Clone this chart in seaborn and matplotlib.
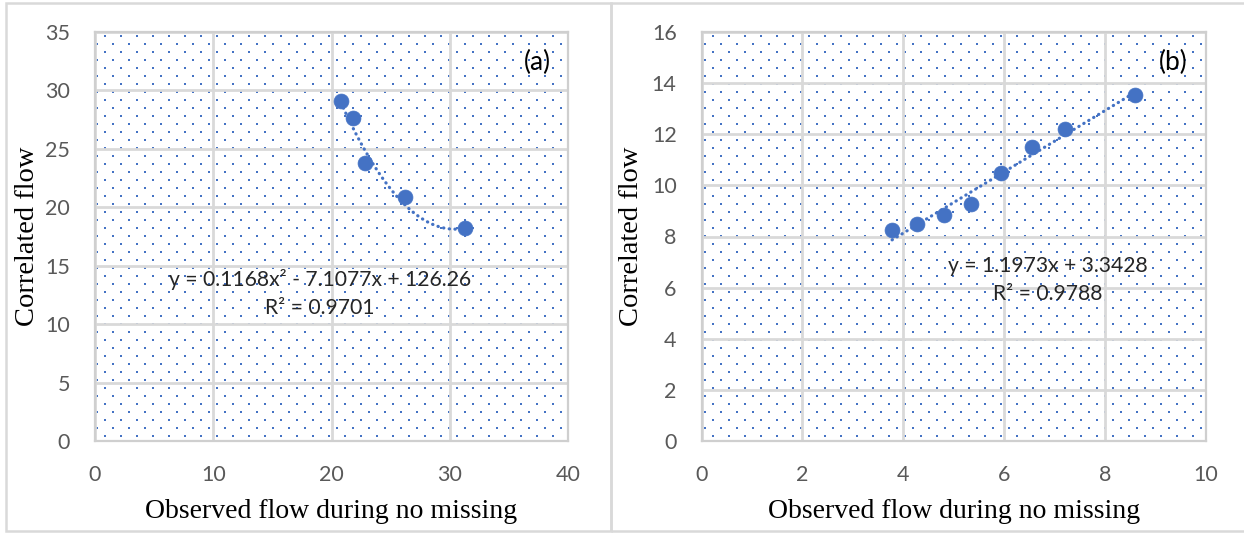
import numpy as np
import pandas as pd
import matplotlib
matplotlib.use("Agg")
import matplotlib.pyplot as plt
from matplotlib.patches import Rectangle
import seaborn as sns

# Panel (a): observed vs correlated flow, quadratic trend
obs_a = [20.8, 21.8, 22.8, 26.2, 31.3]
corr_a = [29.1, 27.6, 23.8, 20.9, 18.2]
coef_a = [0.1168, -7.1077, 126.26]
eq_a = "y = 0.1168x² - 7.1077x + 126.26"
r2_a = "R² = 0.9701"

# Panel (b): observed vs correlated flow, linear trend
obs_b = [3.78, 4.27, 4.80, 5.35, 5.94, 6.56, 7.21, 8.60]
corr_b = [8.24, 8.47, 8.83, 9.29, 10.50, 11.49, 12.20, 13.55]
coef_b = [1.1973, 3.3428]
eq_b = "y = 1.1973x + 3.3428"
r2_b = "R² = 0.9788"

xlabel = "Observed flow during no missing"
ylabel = "Correlated flow"

BLUE = "#4472C4"
GRID = "#D9D9D9"
TICK = "#595959"
SANS = ["Lato", "DejaVu Sans"]
SERIF = ["Liberation Serif", "DejaVu Serif"]

sns.set_theme(style="white")
plt.rcParams["font.family"] = SANS

W, H = 1244, 533
fig = plt.figure(figsize=(W / 100, H / 100), dpi=100)


def px_axes(left, top, right, bottom):
    return fig.add_axes([left / W, 1 - bottom / H, (right - left) / W, (bottom - top) / H])


def dot_pattern(ax, xlim, ylim, x0_even, x0_odd, y0):
    bb = ax.get_window_extent()
    w, h = int(round(bb.width)), int(round(bb.height))
    img = np.ones((h, w, 4))
    rgb = np.array(matplotlib.colors.to_rgb(BLUE))
    for r, yy in enumerate(range(y0, h - 1, 8)):
        start = x0_even if r % 2 == 0 else x0_odd
        for xx in range(start, w - 1, 16):
            img[yy:yy + 2, xx:xx + 2, :3] = rgb
    ax.imshow(img, extent=(xlim[0], xlim[1], ylim[0], ylim[1]), aspect="auto",
              interpolation="nearest", zorder=0)


def panel(ax, xs, ys, coef, xlim, ylim, xstep, ystep, eq, r2, eq_pos, tag,
          pat_off, ylab_x):
    dot_pattern(ax, xlim, ylim, *pat_off)
    xt = np.linspace(min(xs), max(xs), 200)
    trend = pd.DataFrame({"x": xt, "y": np.polyval(coef, xt)})
    sns.lineplot(data=trend, x="x", y="y", ax=ax, color=BLUE, lw=2.3,
                 linestyle=(0, (0.1, 1.7)), dash_capstyle="round", zorder=3)
    pts = pd.DataFrame({"x": xs, "y": ys})
    sns.scatterplot(data=pts, x="x", y="y", ax=ax, s=115, color=BLUE,
                    edgecolor=BLUE, linewidth=0.5, zorder=4)
    ax.set_xlim(*xlim)
    ax.set_ylim(*ylim)
    ax.set_xticks(np.arange(xlim[0], xlim[1] + 1e-9, xstep))
    ax.set_yticks(np.arange(ylim[0], ylim[1] + 1e-9, ystep))
    ax.grid(True, color=GRID, lw=2.0)
    ax.set_axisbelow(True)
    for s in ax.spines.values():
        s.set_visible(True)
        s.set_color("#CFCFCF")
        s.set_linewidth(1.6)
    ax.tick_params(axis="both", length=0, labelsize=15.5, labelcolor=TICK)
    ax.tick_params(axis="y", pad=18)
    ax.tick_params(axis="x", pad=17)
    ax.set_xlabel(xlabel, fontsize=20, family=SERIF, color="black")
    ax.set_ylabel(ylabel, fontsize=20.5, family=SERIF, color="black")
    ax.xaxis.set_label_coords(0.5, (441 - 512) / 409)
    ax.yaxis.set_label_coords(ylab_x, 0.5)
    ax.xaxis.label.set_va("center")
    ax.yaxis.label.set_va("center")
    ax.text(eq_pos[0], eq_pos[1], eq + "\n" + r2, transform=ax.transAxes,
            ha="center", va="center", fontsize=15.2, color="#262626",
            linespacing=1.5, zorder=5)
    ax.text(0.935, 0.925, tag, transform=ax.transAxes, ha="center", va="center",
            fontsize=19, color="black", zorder=5)


ax_a = px_axes(95, 32, 568, 441)
ax_b = px_axes(701.6, 32, 1205.6, 441)
fig.canvas.draw()

panel(ax_a, obs_a, corr_a, coef_a, (0, 40), (0, 35), 10, 5, eq_a, r2_a,
      ((320 - 95) / 473, (441 - 293) / 409), "(a)", (9, 1, 3),
      (28 - 95) / 473)
panel(ax_b, obs_b, corr_b, coef_b, (0, 10), (0, 16), 2, 2, eq_b, r2_b,
      ((1048 - 701.6) / 504, (441 - 280) / 409), "(b)", (10, 2, 3),
      (632 - 701.6) / 504)

# chart-area borders around each panel
for x0, x1 in [(6, 611), (611, 1250)]:
    fig.patches.append(Rectangle((x0 / W, 1 - 531 / H), (x1 - x0) / W, 528 / H,
                                 transform=fig.transFigure, fill=False,
                                 edgecolor=GRID, lw=1.8, zorder=0))

fig.savefig("out.png", dpi=100, facecolor="white")
